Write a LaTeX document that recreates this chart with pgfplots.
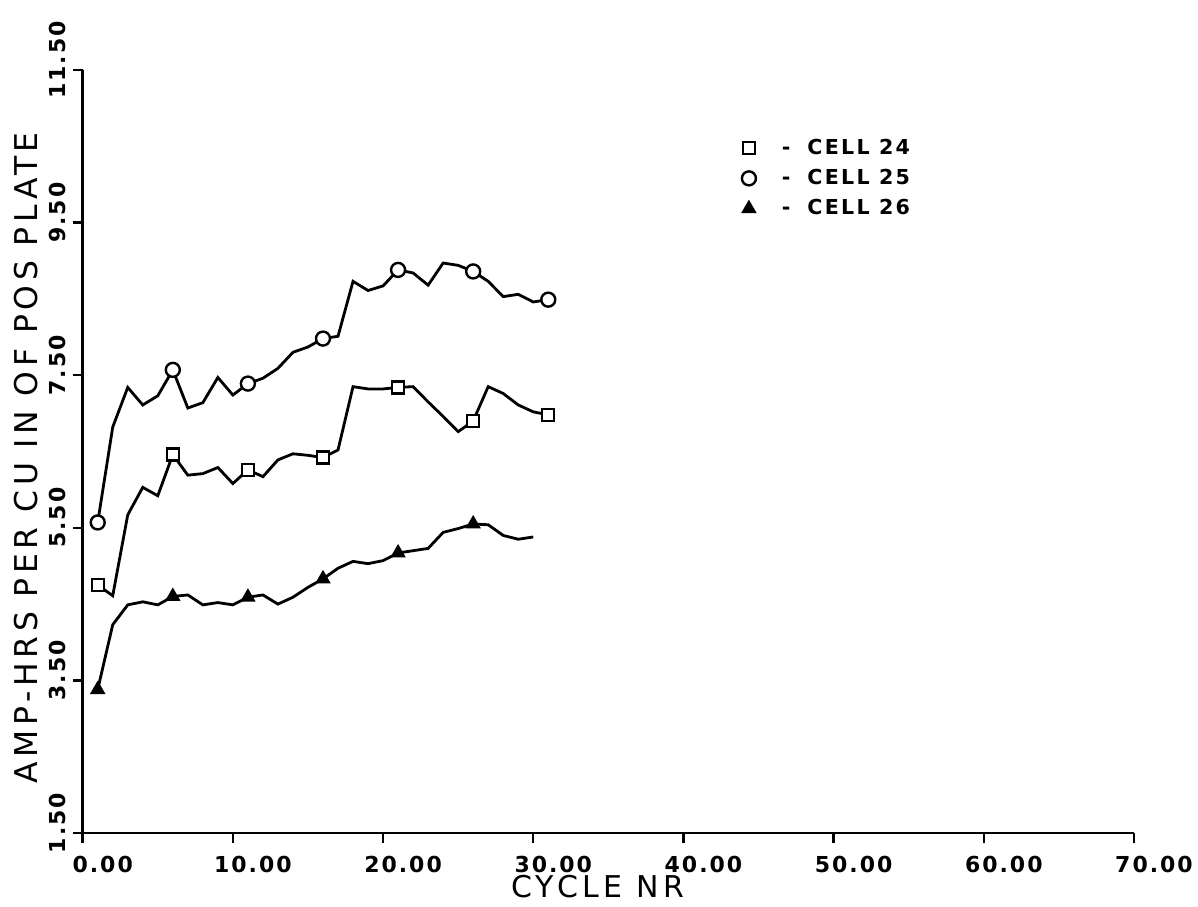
\documentclass[border=0pt]{standalone}
\usepackage{pgfplots}
\pgfplotsset{compat=1.18}
\usepackage{fontspec}
\setmainfont{DejaVu Sans}[LetterSpace=15]
\pgfplotstableread{
x y
1 4.75
2 4.61
3 5.67
4 6.03
5 5.92
6 6.46
7 6.19
8 6.21
9 6.29
10 6.08
11 6.26
12 6.17
13 6.39
14 6.47
15 6.45
16 6.42
17 6.52
18 7.35
19 7.32
20 7.32
21 7.34
22 7.35
23 7.15
24 6.96
25 6.76
26 6.90
27 7.35
28 7.26
29 7.11
30 7.02
31 6.98
}\cellA
\pgfplotstableread{
x y
1 5.57
2 6.82
3 7.34
4 7.11
5 7.23
6 7.57
7 7.07
8 7.14
9 7.47
10 7.24
11 7.39
12 7.46
13 7.59
14 7.80
15 7.87
16 7.98
17 8.01
18 8.73
19 8.61
20 8.67
21 8.88
22 8.84
23 8.68
24 8.97
25 8.94
26 8.86
27 8.73
28 8.53
29 8.56
30 8.46
31 8.49
}\cellB
\pgfplotstableread{
x y
1 3.38
2 4.23
3 4.49
4 4.53
5 4.49
6 4.60
7 4.62
8 4.49
9 4.52
10 4.49
11 4.59
12 4.62
13 4.50
14 4.59
15 4.72
16 4.83
17 4.97
18 5.06
19 5.03
20 5.07
21 5.17
22 5.20
23 5.23
24 5.44
25 5.49
26 5.55
27 5.54
28 5.40
29 5.35
30 5.38
}\cellC
\begin{document}
\begin{tikzpicture}
\path[use as bounding box] (-41.35pt,-36.5pt) rectangle (557.65pt,416.5pt);
\begin{axis}[
  at={(0pt,0pt)}, anchor=south west,
  scale only axis, width=525.65pt, height=381.5pt,
  xmin=0, xmax=70, ymin=1.5, ymax=11.5,
  axis x line*=bottom, axis y line*=left,
  axis line style={line width=1.4pt, -},
  xtick={0,10,...,70}, ytick={1.5,3.5,5.5,7.5,9.5,11.5},
  tick align=outside, major tick length=5pt,
  tick style={line width=1.2pt, black},
  /pgf/number format/assume math mode=true,
  xticklabel style={/pgf/number format/fixed, /pgf/number format/fixed zerofill, /pgf/number format/precision=2,
     font=\bfseries\fontsize{11}{12}\selectfont\addfontfeature{LetterSpace=9}, anchor=north, xshift=10pt, yshift=-3pt},
  yticklabel style={/pgf/number format/fixed, /pgf/number format/fixed zerofill, /pgf/number format/precision=2,
     font=\bfseries\fontsize{11}{12}\selectfont\addfontfeature{LetterSpace=9}, yshift=5pt, rotate=90, anchor=south},
  xlabel={CYCLE NR},
  ylabel={AMP-HRS PER CU IN OF POS PLATE},
  every axis x label/.style={at={(axis description cs:0.49,-0.0708)}, anchor=center, font=\fontsize{15}{16}\selectfont},
  every axis y label/.style={at={(axis description cs:-0.0539,0.4915)}, rotate=90, anchor=center, font=\fontsize{15.7}{16}\selectfont},
  legend style={draw=none, fill=none, at={(axis cs:44.4,10.08)}, anchor=west, xshift=-4pt,
     font=\bfseries\fontsize{10.3}{12}\selectfont\addfontfeature{LetterSpace=11}, row sep=2pt, inner sep=0pt},
  legend cell align=left,
  legend image code/.code={\draw[mark repeat=1, mark phase=1, only marks, #1] plot coordinates {(0.15cm,0cm)};},
]
\addplot[black, line width=1.4pt, mark=square*, mark size=3pt, mark repeat=5, mark phase=1,
  mark options={fill=white, line width=1.2pt}] table[x=x,y=y] {\cellA};
\addlegendentry{\hspace*{11pt}-\hspace{8.5pt}CELL 24}
\addplot[black, line width=1.4pt, mark=*, mark size=3.5pt, mark repeat=5, mark phase=1,
  mark options={fill=white, line width=1.2pt}] table[x=x,y=y] {\cellB};
\addlegendentry{\hspace*{11pt}-\hspace{8.5pt}CELL 25}
\addplot[black, line width=1.4pt, mark=triangle*, mark size=3.5pt, mark repeat=5, mark phase=1,
  mark options={fill=black, line width=1pt}] table[x=x,y=y] {\cellC};
\addlegendentry{\hspace*{11pt}-\hspace{8.5pt}CELL 26}
\end{axis}
\end{tikzpicture}
\end{document}
